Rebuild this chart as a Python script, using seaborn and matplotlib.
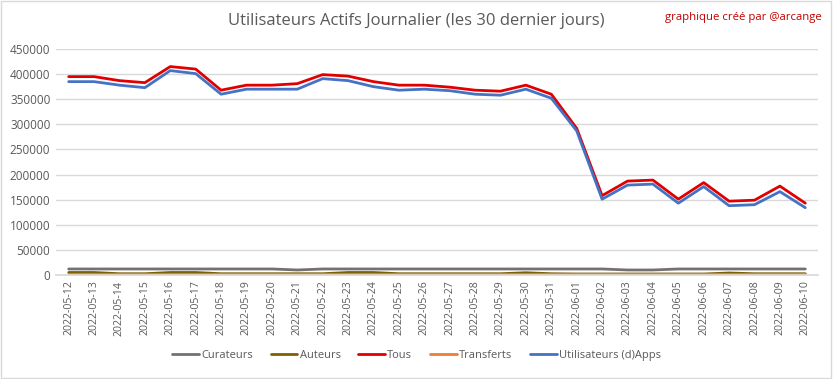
import pandas as pd
import matplotlib.pyplot as plt
import seaborn as sns
from matplotlib.patches import Rectangle

sns.set_theme(style="whitegrid")
plt.rcParams['font.family'] = ['Open Sans', 'DejaVu Sans']

dates = ["2022-05-12", "2022-05-13", "2022-05-14", "2022-05-15", "2022-05-16",
         "2022-05-17", "2022-05-18", "2022-05-19", "2022-05-20", "2022-05-21",
         "2022-05-22", "2022-05-23", "2022-05-24", "2022-05-25", "2022-05-26",
         "2022-05-27", "2022-05-28", "2022-05-29", "2022-05-30", "2022-05-31",
         "2022-06-01", "2022-06-02", "2022-06-03", "2022-06-04", "2022-06-05",
         "2022-06-06", "2022-06-07", "2022-06-08", "2022-06-09", "2022-06-10"]

curateurs = [12000, 12000, 12000, 12000, 12000, 12000, 12000, 12000, 12000, 10000,
             12000, 12000, 12000, 12000, 12000, 12000, 12000, 12000, 12000, 12000,
             12000, 12000, 10000, 10000, 12000, 12000, 12000, 12000, 12000, 12000]
auteurs = [5000, 5000, 2500, 2500, 5000, 5000, 2500, 2500, 2500, 2500,
           2500, 5000, 5000, 2500, 2500, 2500, 2500, 2500, 4500, 2500,
           2000, 2000, 2000, 2000, 2000, 2000, 4000, 2500, 2500, 2500]
tous = [395000, 395000, 387000, 383000, 415000, 410000, 368000, 378000, 378000, 381000,
        399000, 396000, 385000, 378000, 378000, 374000, 368000, 366000, 378000, 360000,
        292000, 158000, 187000, 189000, 151000, 184000, 147000, 149000, 177000, 143000]
transferts = [2000] * 30
apps = [385000, 385000, 378000, 373000, 407000, 401000, 360000, 370000, 370000, 370000,
        391000, 387000, 375000, 368000, 370000, 367000, 360000, 358000, 370000, 352000,
        287000, 151000, 179000, 181000, 143000, 176000, 138000, 140000, 166000, 134000]

series = {
    "Curateurs": curateurs,
    "Auteurs": auteurs,
    "Tous": tous,
    "Transferts": transferts,
    "Utilisateurs (d)Apps": apps,
}
colors = {
    "Curateurs": "#767171",
    "Auteurs": "#7f6000",
    "Tous": "#e00000",
    "Transferts": "#ed7d31",
    "Utilisateurs (d)Apps": "#4472c4",
}

rows = []
for name, vals in series.items():
    for i, v in enumerate(vals):
        rows.append({"idx": i, "value": v, "serie": name})
df = pd.DataFrame(rows)

fig = plt.figure(figsize=(8.33, 3.79), dpi=100)
ax = fig.add_axes([0.0672, 0.2744, 0.9148, 0.5963])

sns.lineplot(data=df, x="idx", y="value", hue="serie", palette=colors,
             hue_order=list(series.keys()), linewidth=2, ax=ax, legend=True)

ax.set_xlim(-0.5, 29.5)
ax.set_ylim(0, 450000)
ax.set_yticks(range(0, 450001, 50000))
ax.set_yticklabels([str(v) for v in range(0, 450001, 50000)], fontsize=8.5, color="#595959")
ax.set_xticks(range(30))
ax.set_xticklabels(dates, rotation=90, fontsize=7.6, color="#595959")
ax.tick_params(axis="both", length=0, pad=4)
ax.set_xlabel("")
ax.set_ylabel("")
ax.grid(axis="x", visible=False)
ax.grid(axis="y", color="#d9d9d9", linewidth=1)
for s in ["left", "right", "top"]:
    ax.spines[s].set_visible(False)
ax.spines["bottom"].set_color("#d9d9d9")

handles, labels = ax.get_legend_handles_labels()
ax.get_legend().remove()
fig.legend(handles, labels, loc="center", bbox_to_anchor=(0.5, 0.063), ncol=5,
           frameon=False, fontsize=8, handlelength=2.4, handletextpad=0.2,
           columnspacing=1.6, labelcolor="#595959")

fig.text(0.5, 0.945, "Utilisateurs Actifs Journalier (les 30 dernier jours)",
         ha="center", va="center", fontsize=12, color="#595959")
fig.text(0.987, 0.955, "graphique créé par @arcange", ha="right", va="center",
         fontsize=8.2, color="#c00000")

fig.patches.append(Rectangle((0.001, 0.002), 0.997, 0.995, transform=fig.transFigure,
                             fill=False, edgecolor="#d9d9d9", linewidth=1))

fig.savefig("out.png", dpi=100)
